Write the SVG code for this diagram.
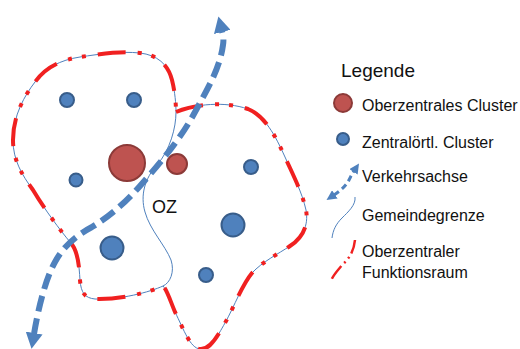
<svg xmlns="http://www.w3.org/2000/svg" width="520" height="349" viewBox="0 0 520 349">
  <style>
    .border { fill: none; stroke: #4F81BD; stroke-width: 1; }
    .func { fill: none; stroke: #F02020; stroke-width: 4; stroke-dasharray: 28 12 4 10 4 12; }
    .axis { fill: none; stroke: #4F81BD; stroke-width: 6; stroke-dasharray: 16 7; }
    .axis-sm { fill: none; stroke: #4F81BD; stroke-width: 3; stroke-dasharray: 6 4; }
    .oz { fill: #BE5350; stroke: #8C3A38; stroke-width: 2; }
    .zo { fill: #4F81BD; stroke: #385D8A; stroke-width: 2; }
    text { font-family: "Liberation Sans", Arial, sans-serif; fill: #111; }
    .lbl { font-size: 16px; }
  </style>
  <defs>
    <marker id="head" viewBox="0 0 16 17" refX="1" refY="8.5" markerWidth="16" markerHeight="17" markerUnits="userSpaceOnUse" orient="auto-start-reverse">
      <path d="M0,0 L16,8.5 L0,17 Z" fill="#4F81BD"/>
    </marker>
    <marker id="head-sm" viewBox="0 0 10 10" refX="1" refY="5" markerWidth="10" markerHeight="10" markerUnits="userSpaceOnUse" orient="auto-start-reverse">
      <path d="M0,0 L10,5 L0,10 Z" fill="#4F81BD"/>
    </marker>
  </defs>

  <!-- municipal boundaries and functional area -->
  <g id="boundaries">
    <path id="outer-border" class="border" d="M176,112 C195,104 225,101 248,109 C265,116 275,135 285,157 C293,175 302,192 306,210 C309,226 302,238 290,246 C278,254 262,262 252,273 C242,285 235,305 225,323 C217,337 210,350 200,349 C190,348 184,330 175,312 C170,300 167,290 163,286 C150,292 120,300 95,299 C85,298 81,293 80,280 C79,265 78,250 70,242 C60,230 45,210 33,190 C22,175 13,160 13,140 C13,115 25,95 35,82 C45,68 60,60 80,57 C100,54 120,51 140,53 C157,55 168,64 172,80 C175,92 176,104 176,112 Z"/>
    <path id="inner-border" class="border" d="M176,112 C176,128 170,150 157,165 C145,178 140,195 145,212 C150,230 165,245 171,260 C175,272 170,283 163,286"/>
    <path id="functional-area" class="func" d="M176,112 C195,104 225,101 248,109 C265,116 275,135 285,157 C293,175 302,192 306,210 C309,226 302,238 290,246 C278,254 262,262 252,273 C242,285 235,305 225,323 C217,337 210,350 200,349 C190,348 184,330 175,312 C170,300 167,290 163,286 C150,292 120,300 95,299 C85,298 81,293 80,280 C79,265 78,250 70,242 C60,230 45,210 33,190 C22,175 13,160 13,140 C13,115 25,95 35,82 C45,68 60,60 80,57 C100,54 120,51 140,53 C157,55 168,64 172,80 C175,92 176,104 176,112 Z"/>
  </g>

  <!-- clusters -->
  <g id="oz-main"><circle class="oz" cx="127" cy="163" r="18"/></g>
  <g id="oz-small"><circle class="oz" cx="177" cy="164" r="10"/></g>
  <g id="zo-1"><circle class="zo" cx="67" cy="100" r="7"/></g>
  <g id="zo-2"><circle class="zo" cx="134" cy="100" r="7"/></g>
  <g id="zo-3"><circle class="zo" cx="251" cy="167" r="7"/></g>
  <g id="zo-4"><circle class="zo" cx="76" cy="180" r="6.5"/></g>
  <g id="zo-5"><circle class="zo" cx="112" cy="248" r="11.5"/></g>
  <g id="zo-6"><circle class="zo" cx="233" cy="225" r="11.5"/></g>
  <g id="zo-7"><circle class="zo" cx="206" cy="275" r="7"/></g>

  <!-- traffic axis -->
  <g id="connectors">
    <path id="axis" class="axis" marker-start="url(#head)" marker-end="url(#head)" d="M34,334 C38,310 45,280 55,262 C63,247 75,236 92,227 C110,216 125,203 140,186 C160,163 180,140 195,112 C208,88 220,68 223,45 C224,39 223,35 222,31"/>
  </g>

  <g id="oz-label"><text x="152" y="213" font-size="18">OZ</text></g>

  <!-- legend -->
  <g id="legend">
    <text x="341" y="77" font-size="19">Legende</text>
    <circle class="oz" cx="343" cy="103" r="9"/>
    <text class="lbl" x="362" y="111" font-size="15.8">Oberzentrales Cluster</text>
    <circle class="zo" cx="343" cy="139" r="6"/>
    <text class="lbl" x="362" y="148">Zentralörtl. Cluster</text>
    <path class="axis-sm" marker-start="url(#head-sm)" marker-end="url(#head-sm)" d="M334,195 C340,191 346,186 349,180 C351,176 352,174 354,171"/>
    <text class="lbl" x="362" y="182">Verkehrsachse</text>
    <path class="border" d="M355,197 C356,205 348,212 342,218 C336,224 333,230 332,238"/>
    <text class="lbl" x="362" y="221">Gemeindegrenze</text>
    <path fill="none" stroke="#F02020" stroke-width="2.5" stroke-dasharray="14 4 2 4 2 4 16" d="M355,240 C354,250 350,258 343,264 C338,270 333,275 331,281"/>
    <text class="lbl" x="362" y="257">Oberzentraler</text>
    <text class="lbl" x="362" y="278">Funktionsraum</text>
  </g>
</svg>
